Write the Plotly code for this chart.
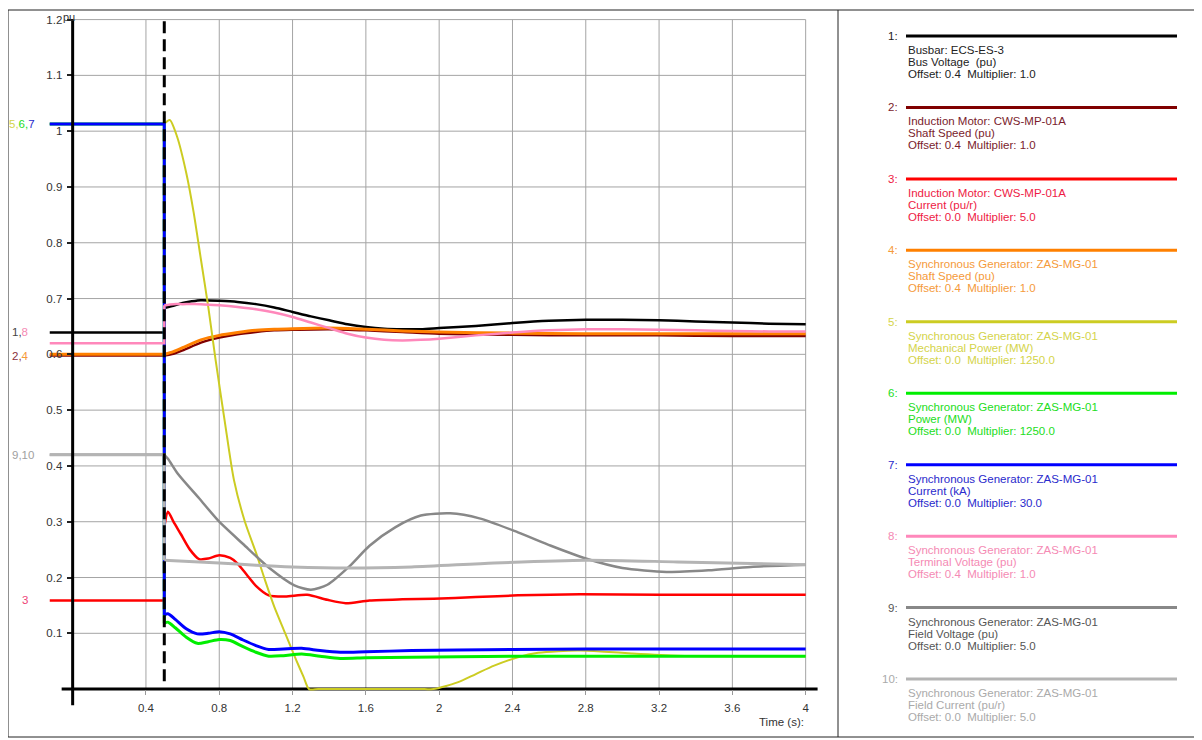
import plotly.graph_objects as go

# ---------------- data (displayed values) ----------------
t_bus = [-0.125, 0.5, 0.5, 0.55, 0.6, 0.65, 0.7, 0.8, 0.9, 1.0, 1.1, 1.2, 1.3, 1.4, 1.5, 1.6, 1.7, 1.8,
         1.9, 2.0, 2.2, 2.4, 2.6, 2.8, 3.0, 3.2, 3.4, 3.6, 3.8, 4.0]
v_bus = [0.639, 0.639, 0.683, 0.687, 0.692, 0.695, 0.697, 0.696, 0.694, 0.690, 0.684, 0.676, 0.668, 0.661,
         0.654, 0.649, 0.646, 0.645, 0.645, 0.647, 0.651, 0.656, 0.660, 0.662, 0.662, 0.661, 0.659, 0.657,
         0.655, 0.654]

t_im_speed = [-0.125, 0.5, 0.55, 0.6, 0.7, 0.8, 0.9, 1.0, 1.1, 1.2, 1.4, 1.6, 1.8, 2.0, 2.4, 2.8, 3.2, 3.6, 4.0]
v_im_speed = [0.598, 0.598, 0.601, 0.607, 0.621, 0.630, 0.636, 0.640, 0.643, 0.644, 0.645, 0.643, 0.640,
              0.637, 0.635, 0.634, 0.634, 0.633, 0.633]

t_im_curr = [-0.125, 0.5, 0.5, 0.52, 0.55, 0.59, 0.64, 0.69, 0.74, 0.8, 0.86, 0.9, 0.95, 1.0, 1.07, 1.16,
             1.28, 1.39, 1.49, 1.62, 1.8, 1.97, 2.2, 2.43, 2.77, 3.2, 3.6, 4.0]
v_im_curr = [0.159, 0.159, 0.29, 0.318, 0.30, 0.278, 0.25, 0.233, 0.234, 0.240, 0.235, 0.225, 0.205, 0.185,
             0.168, 0.166, 0.169, 0.160, 0.154, 0.159, 0.161, 0.162, 0.165, 0.168, 0.170, 0.169, 0.169, 0.169]

t_gen_speed = [-0.125, 0.5, 0.55, 0.6, 0.7, 0.8, 0.9, 1.0, 1.1, 1.2, 1.4, 1.6, 1.8, 2.0, 2.4, 2.8, 3.2, 3.6, 4.0]
v_gen_speed = [0.600, 0.600, 0.605, 0.612, 0.626, 0.634, 0.639, 0.643, 0.645, 0.646, 0.647, 0.645, 0.642,
               0.640, 0.638, 0.637, 0.637, 0.637, 0.637]

t_mech = [-0.125, 0.5, 0.53, 0.57, 0.62, 0.66, 0.70, 0.74, 0.78, 0.83, 0.88, 0.94, 1.0, 1.05, 1.1, 1.16,
          1.22, 1.26, 1.29, 1.34, 1.92, 1.97, 2.1, 2.2, 2.3, 2.43, 2.54, 2.65, 2.77, 2.9, 3.05, 3.3, 3.6, 4.0]
v_mech = [1.013, 1.013, 1.02, 0.99, 0.925, 0.855, 0.77, 0.685, 0.59, 0.48, 0.375, 0.30, 0.245, 0.195,
          0.148, 0.10, 0.052, 0.022, 0.0, 0.0, 0.0, 0.0, 0.012, 0.027, 0.042, 0.057, 0.065, 0.068, 0.069,
          0.067, 0.064, 0.060, 0.059, 0.059]

t_power = [-0.125, 0.5, 0.5, 0.52, 0.56, 0.62, 0.68, 0.74, 0.8, 0.86, 0.93, 1.0, 1.07, 1.15, 1.25, 1.35,
           1.46, 1.6, 1.85, 2.1, 2.4, 2.8, 3.2, 3.6, 4.0]
v_power = [1.013, 1.013, 0.118, 0.12, 0.11, 0.093, 0.082, 0.085, 0.089, 0.087, 0.076, 0.066, 0.059, 0.060,
           0.063, 0.059, 0.055, 0.056, 0.057, 0.058, 0.059, 0.059, 0.059, 0.059, 0.059]

t_gen_curr = [-0.125, 0.5, 0.5, 0.52, 0.56, 0.62, 0.68, 0.74, 0.8, 0.86, 0.93, 1.0, 1.07, 1.15, 1.25, 1.35,
              1.46, 1.6, 1.85, 2.1, 2.4, 2.8, 3.2, 3.6, 4.0]
v_gen_curr = [1.013, 1.013, 0.133, 0.135, 0.125, 0.108, 0.099, 0.100, 0.103, 0.099, 0.088, 0.078, 0.071,
              0.072, 0.073, 0.069, 0.066, 0.067, 0.069, 0.070, 0.071, 0.072, 0.072, 0.072, 0.072]

t_term = [-0.125, 0.5, 0.5, 0.55, 0.6, 0.7, 0.8, 0.9, 1.0, 1.1, 1.2, 1.3, 1.4, 1.5, 1.6, 1.7, 1.8, 1.9,
          2.0, 2.2, 2.4, 2.6, 2.8, 3.0, 3.2, 3.4, 3.6, 3.8, 4.0]
v_term = [0.620, 0.620, 0.688, 0.690, 0.690, 0.690, 0.688, 0.685, 0.681, 0.675, 0.667, 0.657, 0.647, 0.637,
          0.630, 0.626, 0.625, 0.626, 0.628, 0.634, 0.639, 0.643, 0.645, 0.645, 0.644, 0.643, 0.642, 0.641,
          0.641]

t_fv = [-0.125, 0.5, 0.52, 0.574, 0.69, 0.8, 0.93, 1.07, 1.21, 1.3, 1.39, 1.51, 1.62, 1.76, 1.9, 2.06,
        2.22, 2.43, 2.61, 2.8, 3.0, 3.24, 3.47, 3.7, 4.0]
v_fv = [0.420, 0.420, 0.413, 0.386, 0.342, 0.30, 0.26, 0.218, 0.186, 0.178, 0.187, 0.22, 0.257, 0.29, 0.311,
        0.315, 0.306, 0.281, 0.257, 0.234, 0.217, 0.21, 0.213, 0.219, 0.223]

t_fc = [-0.125, 0.5, 0.5, 0.8, 1.0, 1.2, 1.5, 1.85, 2.3, 2.8, 3.3, 4.0]
v_fc = [0.420, 0.420, 0.231, 0.226, 0.222, 0.219, 0.217, 0.219, 0.226, 0.231, 0.228, 0.223]

x_ticks = [0.4, 0.8, 1.2, 1.6, 2.0, 2.4, 2.8, 3.2, 3.6, 4.0]
x_tick_text = ["0.4", "0.8", "1.2", "1.6", "2", "2.4", "2.8", "3.2", "3.6", "4"]
y_ticks = [0.1, 0.2, 0.3, 0.4, 0.5, 0.6, 0.7, 0.8, 0.9, 1.0, 1.1, 1.2]
y_tick_text = ["0.1", "0.2", "0.3", "0.4", "0.5", "0.6", "0.7", "0.8", "0.9", "1", "1.1", "1.2"]
event_time = 0.5

legend_numbers = ["1:", "2:", "3:", "4:", "5:", "6:", "7:", "8:", "9:", "10:"]
legend_line1 = ["Busbar: ECS-ES-3", "Induction Motor: CWS-MP-01A", "Induction Motor: CWS-MP-01A",
                "Synchronous Generator: ZAS-MG-01", "Synchronous Generator: ZAS-MG-01",
                "Synchronous Generator: ZAS-MG-01", "Synchronous Generator: ZAS-MG-01",
                "Synchronous Generator: ZAS-MG-01", "Synchronous Generator: ZAS-MG-01",
                "Synchronous Generator: ZAS-MG-01"]
legend_line2 = ["Bus Voltage  (pu)", "Shaft Speed (pu)", "Current (pu/r)", "Shaft Speed (pu)",
                "Mechanical Power (MW)", "Power (MW)", "Current (kA)", "Terminal Voltage (pu)",
                "Field Voltage (pu)", "Field Current (pu/r)"]
legend_line3 = ["Offset: 0.4  Multiplier: 1.0", "Offset: 0.4  Multiplier: 1.0",
                "Offset: 0.0  Multiplier: 5.0", "Offset: 0.4  Multiplier: 1.0",
                "Offset: 0.0  Multiplier: 1250.0", "Offset: 0.0  Multiplier: 1250.0",
                "Offset: 0.0  Multiplier: 30.0", "Offset: 0.4  Multiplier: 1.0",
                "Offset: 0.0  Multiplier: 5.0", "Offset: 0.0  Multiplier: 5.0"]

# ---------------- styles ----------------
line_colors = ["#000000", "#800000", "#ff0000", "#ff8000", "#cccc22", "#00ee00", "#0000ff",
               "#ff88bb", "#888888", "#b4b4b4"]
line_widths = [2.5, 2.5, 2.5, 3, 2, 3, 3, 2.5, 2.5, 3]
text_colors = ["#222222", "#7a1c2c", "#ee1a44", "#f59a3a", "#d4d44a", "#22dd22", "#2a2acc",
               "#f58ab4", "#555555", "#aaaaaa"]
series_t = [t_bus, t_im_speed, t_im_curr, t_gen_speed, t_mech, t_power, t_gen_curr, t_term, t_fv, t_fc]
series_v = [v_bus, v_im_speed, v_im_curr, v_gen_speed, v_mech, v_power, v_gen_curr, v_term, v_fv, v_fc]

FONT = "Liberation Sans, Arial, sans-serif"
OX, OY = 8, 8          # page body margin of the html page
FW, FH = 1194, 732
L, T = 28, 6
W, H = 788, 703
R, B = FW - L - W, FH - T - H
X_RANGE = [-0.2, 4.1]
Y_RANGE = [-0.05, 1.21]


def px(xp):
    return (xp - OX - L) / W


def py(yp):
    return (FH - B - (yp - OY)) / H


fig = go.Figure()

for t, v, c, w in zip(series_t, series_v, line_colors, line_widths):
    k = max(i for i, tt in enumerate(t) if tt == event_time)
    fig.add_trace(go.Scatter(x=t[:k + 1], y=v[:k + 1], mode="lines", line=dict(color=c, width=w),
                             hoverinfo="skip", showlegend=False))
    fig.add_trace(go.Scatter(x=t[k:], y=v[k:], mode="lines",
                             line=dict(color=c, width=w, shape="spline", smoothing=0.7),
                             hoverinfo="skip", showlegend=False))

shapes = []
# grid
for xv in x_ticks:
    shapes.append(dict(type="line", xref="x", yref="y", x0=xv, x1=xv, y0=0, y1=y_ticks[-1],
                       line=dict(color="#a4a4a4", width=1), layer="below"))
for yv in y_ticks:
    shapes.append(dict(type="line", xref="x", yref="y", x0=0, x1=x_ticks[-1], y0=yv, y1=yv,
                       line=dict(color="#a4a4a4", width=1), layer="below"))
# axis lines
shapes.append(dict(type="line", xref="x", yref="y", x0=-0.06, x1=4.065, y0=0, y1=0,
                   line=dict(color="#000000", width=3), layer="below"))
shapes.append(dict(type="line", xref="x", yref="y", x0=0, x1=0, y0=-0.029, y1=y_ticks[-1],
                   line=dict(color="#000000", width=3), layer="above"))
# event marker
shapes.append(dict(type="line", xref="x", yref="y", x0=event_time, x1=event_time, y0=0.014, y1=1.197,
                   line=dict(color="#000000", width=3, dash="12px,6px"), layer="above"))
# frame and divider
shapes.append(dict(type="rect", xref="paper", yref="paper", x0=px(8), x1=px(1197), y0=py(10), y1=py(737),
                   line=dict(color="#222222", width=1), layer="below"))
shapes.append(dict(type="line", xref="paper", yref="paper", x0=px(838), x1=px(838), y0=py(10), y1=py(737),
                   line=dict(color="#222222", width=1), layer="below"))

annotations = []
LEG_Y0, LEG_DY = 36, 71.45
for i in range(10):
    yc = LEG_Y0 + i * LEG_DY
    shapes.append(dict(type="line", xref="paper", yref="paper", x0=px(906), x1=px(1177), y0=py(yc), y1=py(yc),
                       line=dict(color=line_colors[i], width=3)))
    annotations.append(dict(xref="paper", yref="paper", x=px(900), y=py(yc), text=legend_numbers[i],
                            xanchor="right", yanchor="middle", showarrow=False,
                            font=dict(family=FONT, size=11.5, color=text_colors[i])))
    for j, txt in enumerate([legend_line1[i], legend_line2[i], legend_line3[i]]):
        annotations.append(dict(xref="paper", yref="paper", x=px(906), y=py(yc + 14 + 12 * j), text=txt,
                                xanchor="left", yanchor="middle", showarrow=False,
                                font=dict(family=FONT, size=11.5, color=text_colors[i])))


def sp(txt, col):
    return '<span style="color:%s">%s</span>' % (col, txt)


left_labels = [
    (7, 124, sp("5,", "#d4d44a") + sp("6,", "#22dd22") + sp("7", "#2a2acc")),
    (10, 332, sp("1,", "#444444") + sp("8", "#f58ab4")),
    (10, 356, sp("2,", "#8a3040") + sp("4", "#f59a3a")),
    (10, 455, sp("9,10", "#a0a0a0")),
    (20, 600, sp("3", "#ee4477")),
]
for xl, yl, txt in left_labels:
    annotations.append(dict(xref="paper", yref="paper", x=px(xl), y=py(yl), text=txt, xanchor="left",
                            yanchor="middle", showarrow=False, font=dict(family=FONT, size=11.5)))

annotations.append(dict(xref="paper", yref="paper", x=px(806), y=py(722), text="Time (s):", xanchor="right",
                        yanchor="middle", showarrow=False, font=dict(family=FONT, size=11.5, color="#333333")))
annotations.append(dict(xref="paper", yref="paper", x=px(61), y=py(17), text="pu", xanchor="left",
                        yanchor="middle", showarrow=False, font=dict(family=FONT, size=11, color="#333333")))

fig.update_layout(
    width=FW, height=FH,
    margin=dict(l=L, r=R, t=T, b=B, autoexpand=False),
    paper_bgcolor="white", plot_bgcolor="white",
    showlegend=False,
    xaxis=dict(range=X_RANGE, anchor="free", position=(0 - Y_RANGE[0]) / (Y_RANGE[1] - Y_RANGE[0]),
               showgrid=False, zeroline=False, showline=False,
               tickmode="array", tickvals=x_ticks, ticktext=x_tick_text,
               ticks="outside", ticklen=5, tickwidth=1, tickcolor="#999999", ticklabelstandoff=3,
               tickfont=dict(family=FONT, size=11.5, color="#333333"), automargin=False, fixedrange=True),
    yaxis=dict(range=Y_RANGE, anchor="free", position=(0 - X_RANGE[0]) / (X_RANGE[1] - X_RANGE[0]),
               showgrid=False, zeroline=False, showline=False,
               tickmode="array", tickvals=y_ticks, ticktext=y_tick_text,
               ticks="outside", ticklen=6, tickwidth=2, tickcolor="#222222", ticklabelstandoff=2,
               tickfont=dict(family=FONT, size=11.5, color="#333333"), automargin=False, fixedrange=True),
    shapes=shapes,
    annotations=annotations,
)

fig.write_html("out.html")
